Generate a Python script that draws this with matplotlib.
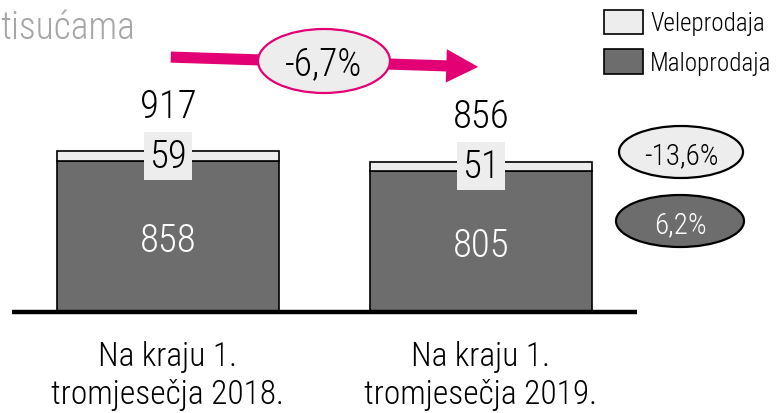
import matplotlib
matplotlib.use("Agg")
import matplotlib.pyplot as plt
from matplotlib.patches import Ellipse, FancyArrowPatch, Patch

plt.rcParams['font.family'] = ['Roboto Condensed', 'DejaVu Sans']
plt.rcParams['font.weight'] = 'light'

# data
categories = ["Na kraju 1.\ntromjesečja 2018.", "Na kraju 1.\ntromjesečja 2019."]
retail = [858, 805]        # Maloprodaja
wholesale = [59, 51]       # Veleprodaja
totals = [917, 856]
change_total = "-6,7%"
change_wholesale = "-13,6%"
change_retail = "6,2%"
unit_text = "tisućama"

DARK = "#6d6d6d"
LIGHT = "#ededed"
PINK = "#e20074"

W, H = 777, 414
fig = plt.figure(figsize=(W / 100, H / 100), dpi=100)

# main bar axes: axis line at 313 px from top
base = 313
ax = fig.add_axes([0, (H - base) / H, 1, base / H])
px_per_unit = 161 / 917
ax.set_ylim(0, base / px_per_unit)
ax.set_xlim(-168 / 313, (W - 168) / 313)
x = [0, 1]
ax.bar(x, retail, width=0.712, color=DARK, edgecolor="black", linewidth=1.2, zorder=2)
ax.bar(x, wholesale, width=0.712, bottom=retail, color=LIGHT, edgecolor="black",
       linewidth=1.2, zorder=2)
ax.plot([-0.5, 1.5], [0, 0], color="black", lw=3.2, clip_on=False, zorder=3,
        solid_capstyle="butt")

for i in x:
    ax.annotate(str(totals[i]), xy=(i, totals[i]), xytext=(0, 45),
                textcoords="offset pixels", ha="center", va="center", fontsize=28)
    ax.annotate(str(wholesale[i]), xy=(i, retail[i] + wholesale[i] / 2), xytext=(0, 0),
                textcoords="offset pixels", ha="center", va="center", fontsize=28,
                zorder=4,
                bbox=dict(boxstyle="square,pad=0.13", facecolor=LIGHT, edgecolor="none"))
    ax.annotate(str(retail[i]), xy=(i, retail[i] / 2), xytext=(0, -4),
                textcoords="offset pixels", ha="center", va="center", fontsize=28,
                color="white")

ax.set_xticks(x, categories)
ax.tick_params(axis="x", length=0, pad=20, labelsize=24)
for lbl in ax.get_xticklabels():
    lbl.set_linespacing(1.25)
ax.set_yticks([])
for s in ax.spines.values():
    s.set_visible(False)
ax.patch.set_alpha(0)

# overlay for annotations, in pixel coordinates
ov = fig.add_axes([0, 0, 1, 1], zorder=5)
ov.set_xlim(0, W)
ov.set_ylim(H, 0)
ov.axis("off")

ov.text(0, 28, unit_text, ha="left", va="center", fontsize=27, color="#a6a6a6")

arrow = FancyArrowPatch((168, 58), (481, 68),
                        arrowstyle="simple,head_length=1.15,head_width=1.2,tail_width=0.4",
                        mutation_scale=20, color=PINK, lw=0)
ov.add_patch(arrow)
ov.add_patch(Ellipse((324, 62), 132, 64, facecolor=LIGHT, edgecolor=PINK, lw=1.6))
ov.text(324, 64, change_total, ha="center", va="center", fontsize=27)

ov.add_patch(Ellipse((681, 153), 124, 52, facecolor=LIGHT, edgecolor="black", lw=1.6))
ov.text(681, 156, change_wholesale, ha="center", va="center", fontsize=21)
ov.add_patch(Ellipse((680, 222), 128, 52, facecolor=DARK, edgecolor="black", lw=1.6))
ov.text(680, 225, change_retail, ha="center", va="center", fontsize=21, color="white")

fs_leg = 18
em = fs_leg / 72 * 100
handles = [Patch(facecolor=LIGHT, edgecolor="black", lw=1.2),
           Patch(facecolor=DARK, edgecolor="black", lw=1.2)]
fig.legend(handles, ["Veleprodaja", "Maloprodaja"], loc="upper left",
           bbox_to_anchor=(601 / W, 1 - 8 / H), frameon=False, fontsize=fs_leg,
           handlelength=39 / em, handleheight=29 / em, handletextpad=0.3,
           labelspacing=0.55, borderpad=0.1, borderaxespad=0)

fig.savefig("out.png", dpi=100)
